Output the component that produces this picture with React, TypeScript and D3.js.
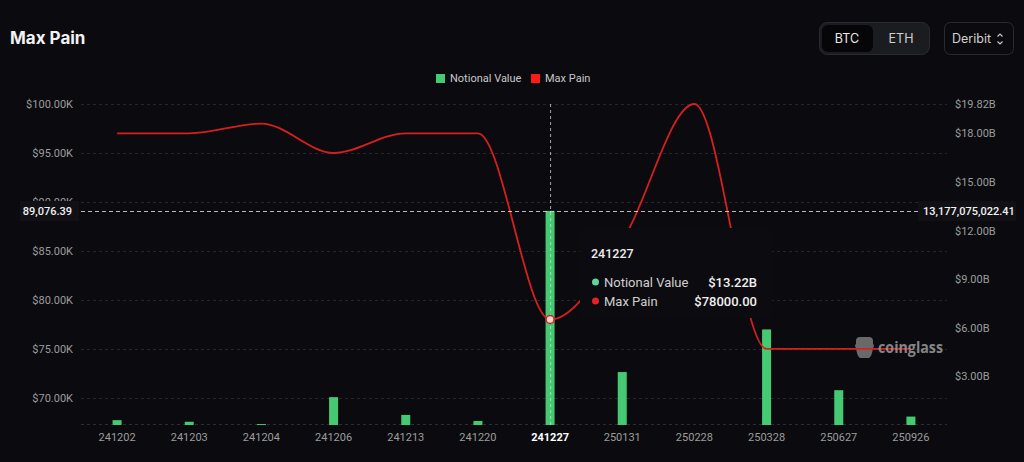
import React from "react";
import * as d3 from "d3";

const categories = ["241202", "241203", "241204", "241206", "241213", "241220", "241227", "250131", "250228", "250328", "250627", "250926"];
const notionalValue = [0.3e9, 0.2e9, 0.06e9, 1.72e9, 0.62e9, 0.25e9, 13.22e9, 3.27e9, 0, 5.9e9, 2.15e9, 0.52e9];
const maxPain = [97000, 97000, 98000, 95000, 97000, 97000, 78000, 86000, 100000, 75000, 75000, 75000];
const leftTicks = [70000, 75000, 80000, 85000, 90000, 95000, 100000];
const rightTicks = [3e9, 6e9, 9e9, 12e9, 15e9, 18e9, 19.82e9];
const hoverIndex = 6;
const crossLeftValue = 89076.39;
const crossRightValue = 13177075022.41;

const W = 1024, H = 462;
const L = 81, R = 947, T = 104, B = 425;
const BG = "#0b0b0f";
const GREEN = "#45c972";
const RED = "#d81f1f";
const FONT = "Roboto, 'Noto Sans', sans-serif";

export default function App() {
  const x = d3.scaleBand<string>().domain(categories).range([L, R]).padding(0);
  const yL = d3.scaleLinear().domain([67230, 100000]).range([B, T]);
  const yR = d3.scaleLinear().domain([0, 19.82e9]).range([B, T]);
  const cx = (c: string) => (x(c) as number) + x.bandwidth() / 2;
  const line = d3.line<number>()
    .x((_, i) => cx(categories[i]))
    .y((d) => yL(d))
    .curve(d3.curveMonotoneX);
  const fmtL = (v: number) => "$" + (v / 1000).toFixed(2) + "K";
  const fmtR = (v: number) => "$" + (v / 1e9).toFixed(2) + "B";
  const barW = 9;
  const hx = cx(categories[hoverIndex]);
  const hy = yL(crossLeftValue);

  return (
    <svg width={W} height={H} style={{ position: "fixed", left: 0, top: 0, display: "block", background: BG }} fontFamily={FONT}>
      <rect x={0} y={0} width={W} height={H} fill={BG} />
      {/* title */}
      <text x={10} y={44} fill="#f2f2f2" fontSize={17} fontWeight={700} fontFamily="Inter, Roboto, sans-serif">Max Pain</text>
      {/* toggle */}
      <rect x={819.5} y={22.5} width={110} height={32} rx={8} fill="#1b1c20" stroke="#2a2b30" />
      <rect x={822} y={25} width={51} height={27} rx={6} fill="#060609" />
      <text x={847} y={42.5} textAnchor="middle" fill="#e6e6e6" fontSize={12.5} fontFamily="Inter, Roboto, sans-serif">BTC</text>
      <text x={901} y={42.5} textAnchor="middle" fill="#d0d0d0" fontSize={12.5} fontFamily="Inter, Roboto, sans-serif">ETH</text>
      <rect x={944.5} y={22.5} width={69} height={32} rx={6} fill="none" stroke="#2a2b30" />
      <text x={952} y={42.5} fill="#d0d0d0" fontSize={12.5} fontFamily="Inter, Roboto, sans-serif">Deribit</text>
      <path d="M997.5,36.5 L1000,34 L1002.5,36.5 M997.5,41.5 L1000,44 L1002.5,41.5" fill="none" stroke="#c8c8c8" strokeWidth={1.2} />
      {/* legend */}
      <rect x={436} y={74} width={9} height={9} fill={GREEN} />
      <text x={450} y={82} fill="#c8c8c8" fontSize={11}>Notional Value</text>
      <rect x={531} y={74} width={9} height={9} fill="#ff1a1a" />
      <text x={545} y={82} fill="#c8c8c8" fontSize={11}>Max Pain</text>
      {/* grid */}
      {leftTicks.map((t) => (
        <line key={"g" + t} x1={L} x2={R} y1={Math.round(yL(t)) + 0.5} y2={Math.round(yL(t)) + 0.5} stroke="#25262b" strokeDasharray="3,3" />
      ))}
      <line x1={L} x2={R} y1={B - 0.5} y2={B - 0.5} stroke="#2c2d32" strokeDasharray="3,3" />
      {/* left axis */}
      {leftTicks.map((t) => (
        <text key={"l" + t} x={73} y={yL(t) + 4} textAnchor="end" fill="#9c9c9c" fontSize={11}>{fmtL(t)}</text>
      ))}
      {/* right axis */}
      {rightTicks.map((t) => (
        <text key={"r" + t} x={955} y={yR(t) + 4} fill="#9c9c9c" fontSize={11}>{fmtR(t)}</text>
      ))}
      {/* x labels */}
      {categories.map((c, i) => (
        <text key={"x" + c} x={cx(c)} y={441} textAnchor="middle" fill={i === hoverIndex ? "#ffffff" : "#9c9c9c"} fontWeight={i === hoverIndex ? 700 : 400} fontSize={11}>{c}</text>
      ))}
      {/* bars */}
      {notionalValue.map((v, i) => v > 0 ? (
        <rect key={"b" + i} x={cx(categories[i]) - barW / 2} y={yR(v)} width={barW} height={B - yR(v)} fill={GREEN} />
      ) : null)}
      {/* watermark logo (under line) */}
      <path d="M856,341 q0,-4 4,-4 h9 q4,0 4,4 v3 q2,1 0,4 q-1,8 -4,10 h-9 q-3,-2 -4,-10 q-2,-3 0,-4 z" fill="#8a8a8a" opacity={0.75} />
      {/* line */}
      <path d="M0,0" />
      <path d={line(maxPain) || ""} fill="none" stroke={RED} strokeWidth={1.8} />
      {/* watermark text */}
      <text x={878} y={353} fill="#9a9a9a" opacity={0.85} fontSize={16} fontWeight={700} textLength={65} lengthAdjust="spacingAndGlyphs" fontFamily="'Open Sans', Roboto, sans-serif">coinglass</text>
      {/* crosshair */}
      <line x1={hx + 0.5} x2={hx + 0.5} y1={T} y2={B} stroke="#d8d8d8" strokeOpacity={0.75} strokeDasharray="3,3" />
      <line x1={L} x2={918} y1={Math.round(hy) + 0.5} y2={Math.round(hy) + 0.5} stroke="#d8d8d8" strokeOpacity={0.85} strokeDasharray="4,3" />
      <circle cx={hx} cy={yL(maxPain[hoverIndex])} r={4} fill="#f4d4d4" stroke={RED} strokeWidth={1.5} />
      {/* tooltip */}
      <rect x={580} y={228} width={192} height={90} rx={4} fill="#0c0c10" />
      <text x={591} y={258} fill="#ececec" fontSize={12.5} fontWeight={500}>{categories[hoverIndex]}</text>
      <circle cx={595.5} cy={282} r={3.5} fill="#5fd39a" />
      <text x={604} y={286.5} fill="#cfcfcf" fontSize={13}>Notional Value</text>
      <text x={757} y={286.5} textAnchor="end" fill="#f0f0f0" fontSize={13} fontWeight={500}>{fmtR(notionalValue[hoverIndex])}</text>
      <circle cx={595.5} cy={301} r={3.5} fill="#e02424" />
      <text x={604} y={305.5} fill="#cfcfcf" fontSize={13}>Max Pain</text>
      <text x={757} y={305.5} textAnchor="end" fill="#f0f0f0" fontSize={13} fontWeight={500}>{"$" + maxPain[hoverIndex].toFixed(2)}</text>
      {/* crosshair labels */}
      <rect x={20} y={201} width={59} height={20} fill="#111115" />
      <text x={72} y={215} textAnchor="end" fill="#f2f2f2" fontSize={11} fontWeight={500}>{d3.format(",.2f")(crossLeftValue)}</text>
      <rect x={918} y={201} width={98} height={20} fill="#111115" />
      <text x={923} y={215} fill="#f2f2f2" fontSize={11} fontWeight={500}>{d3.format(",.2f")(crossRightValue)}</text>
    </svg>
  );
}
